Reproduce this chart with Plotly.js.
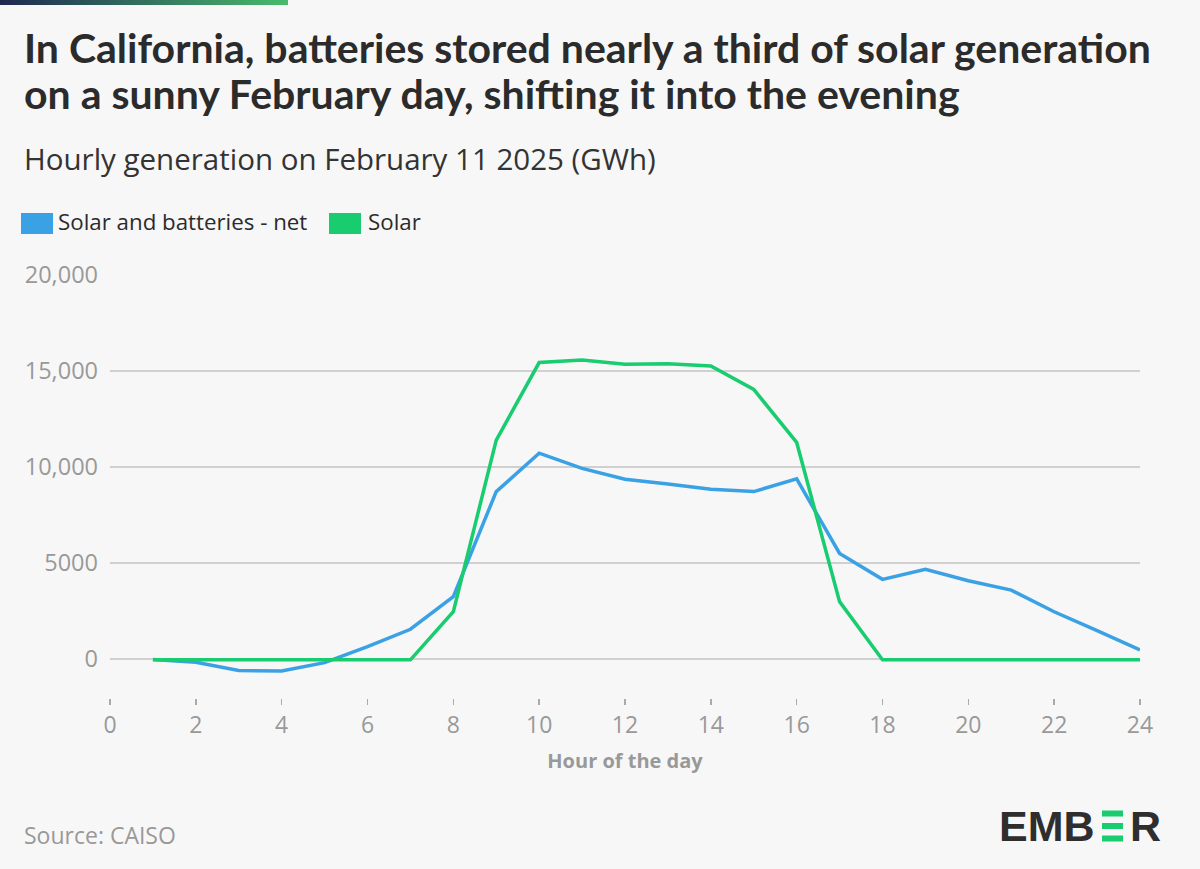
<!DOCTYPE html>
<html>
<head>
<meta charset="utf-8">
<script src="https://cdn.plot.ly/plotly-3.0.1.min.js"></script>
<style>
  body { margin: 0; background: #f7f7f7; }
  #topbar { position: absolute; left: 0; top: 0; width: 288px; height: 5px;
            background: linear-gradient(to right, #1e2850, #48bb6c); z-index: 5; }
  #chart { width: 1200px; height: 869px; }
</style>
</head>
<body>
<div id="topbar"></div>
<div id="chart"></div>
<script>
// hourly generation, GWh, CAISO, 11 Feb 2025
var hours = [1, 2, 3, 4, 5, 6, 7, 8, 9, 10, 11, 12, 13, 14, 15, 16, 17, 18, 19, 20, 21, 22, 23, 24];
var netSolarBatteries = [-30, -170, -600, -620, -190, 640, 1550, 3250, 8720, 10720, 9930, 9360,
                         9110, 8840, 8720, 9380, 5500, 4150, 4670, 4080, 3590, 2460, 1480, 470];
var solar = [-40, -40, -40, -40, -40, -40, -40, 2470, 11400, 15440, 15570, 15350,
             15380, 15260, 14040, 11280, 2990, -40, -40, -40, -40, -40, -40, -40];

var seriesNames = ['Solar and batteries - net', 'Solar'];
var yTickVals = [0, 5000, 10000, 15000, 20000];
var yTickText = ['0', '5000', '10,000', '15,000', '20,000'];
var xTickVals = [0, 2, 4, 6, 8, 10, 12, 14, 16, 18, 20, 22, 24];

var blue = '#3ba1e5';
var green = '#19cc70';
var grey = '#999999';
var titleFont = 'Lato, sans-serif';
var font = '"Open Sans", "Noto Sans", sans-serif';
var logoFont = '"Liberation Sans", Arial, sans-serif';

// plot area in pixels: left 110, right 1140, top 275, bottom 698
function px(p) { return (p - 110) / 1030; }
function py(p) { return (698 - p) / 423; }

var traces = [
  { x: hours, y: netSolarBatteries, mode: 'lines', name: seriesNames[0],
    line: { color: blue, width: 3.5 } },
  { x: hours, y: solar, mode: 'lines', name: seriesNames[1],
    line: { color: green, width: 3.5 } }
];

function note(text, x, y, size, color, family, anchor) {
  return { text: text, xref: 'paper', yref: 'paper', x: px(x), y: py(y),
           xanchor: anchor || 'left', yanchor: 'top', showarrow: false,
           font: { family: family || font, size: size, color: color } };
}
function box(x0, x1, y0, y1, color) {
  return { type: 'rect', xref: 'paper', yref: 'paper', x0: px(x0), x1: px(x1),
           y0: py(y0), y1: py(y1), fillcolor: color, line: { width: 0 } };
}

var layout = {
  width: 1200, height: 869,
  paper_bgcolor: '#f7f7f7', plot_bgcolor: '#f7f7f7',
  margin: { l: 110, r: 60, t: 275, b: 171 },
  font: { family: font, color: '#333' },
  showlegend: false,
  xaxis: {
    range: [0, 24], tickvals: xTickVals, ticks: 'outside', ticklen: 6, tickwidth: 1.5,
    tickcolor: '#aaaaaa', showgrid: false, zeroline: false, showline: false,
    tickfont: { family: font, size: 23, color: grey },
    title: { text: '<b>Hour of the day</b>', font: { family: font, size: 20, color: grey }, standoff: 15 },
    fixedrange: true
  },
  yaxis: {
    range: [-2030, 20000], tickvals: yTickVals, ticktext: yTickText,
    showgrid: true, gridcolor: '#d0d0d0', gridwidth: 1.5, zeroline: false,
    showline: false, ticks: '', ticklabelstandoff: 11,
    tickfont: { family: font, size: 23.5, color: grey },
    fixedrange: true
  },
  annotations: [
    note('<b>In California, batteries stored nearly a third of solar generation</b>', 22, 21, 41, '#2b2b2b', titleFont),
    note('<b>on a sunny February day, shifting it into the evening</b>', 22, 67, 41, '#2b2b2b', titleFont),
    note('Hourly generation on February 11 2025 (GWh)', 22, 136, 29.5, '#333'),
    // legend
    note(seriesNames[0], 56, 204, 22.3, '#2b2b2b'),
    note(seriesNames[1], 366, 204, 22.3, '#2b2b2b'),
    note('Source: CAISO', 22, 817, 23, grey),
    note('<b>EMB</b>', 1097, 800, 43, '#2e2e2e', logoFont, 'right'),
    note('<b>R</b>', 1128, 800, 43, '#2e2e2e', logoFont)
  ],
  shapes: [
    box(21, 53, 213, 234, blue),
    box(329, 361, 213, 234, green),
    // green "E" of the logo as three bars
    box(1102, 1123, 810.5, 816.5, green),
    box(1102, 1123, 823, 829, green),
    box(1102, 1123, 835.5, 841.5, green)
  ]
};

Plotly.newPlot('chart', traces, layout, { displayModeBar: false, staticPlot: true });
</script>
</body>
</html>
